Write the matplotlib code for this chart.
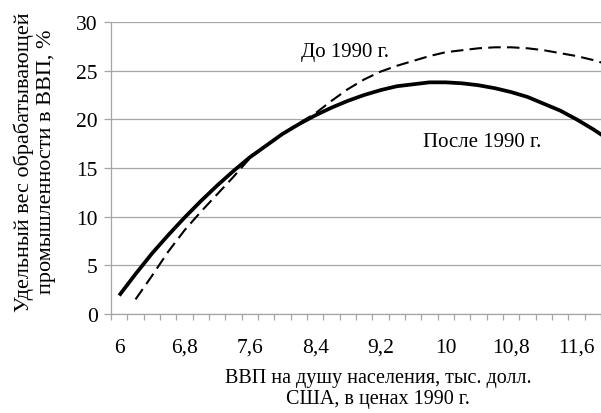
import numpy as np
import matplotlib
matplotlib.use("Agg")
import matplotlib.pyplot as plt
from matplotlib.ticker import FixedLocator

plt.rcParams['font.family'] = ['Liberation Serif', 'DejaVu Serif']

# GDP per capita categories, thousand USD (step 0.2)
gdp = [6.0, 6.2, 6.4, 6.6, 6.8, 7.0, 7.2, 7.4, 7.6, 7.8, 8.0, 8.2, 8.4, 8.6, 8.8,
       9.0, 9.2, 9.4, 9.6, 9.8, 10.0, 10.2, 10.4, 10.6, 10.8, 11.0, 11.2, 11.4,
       11.6, 11.8, 12.0]

# share of manufacturing in GDP, %
after_1990 = [1.9, 4.1, 6.2, 8.1, 9.9, 11.6, 13.2, 14.7, 16.1, 17.3, 18.5, 19.5,
              20.4, 21.2, 21.9, 22.5, 23.0, 23.4, 23.6, 23.8, 23.8, 23.7, 23.5,
              23.2, 22.8, 22.3, 21.6, 20.9, 20.0, 19.0, 17.9]

gdp_before = gdp[1:]
before_1990 = [1.5, 3.9, 6.4, 8.6, 10.5, 12.3, 14.1, 16.0, 17.3, 18.5, 19.6,
               20.6, 21.9, 23.1, 24.1, 24.9, 25.5, 26.0, 26.5, 26.9, 27.1,
               27.3, 27.4, 27.4, 27.3, 27.1, 26.8, 26.5, 26.1, 25.6]

x_labels = [6.0, 6.8, 7.6, 8.4, 9.2, 10.0, 10.8, 11.6]
y_ticks = [0, 5, 10, 15, 20, 25, 30]

fig = plt.figure(figsize=(6.01, 4.14), dpi=100)
ax = fig.add_axes([111 / 601, 99 / 414, 490 / 601, 292 / 414])

grid_col = "#a6a6a6"
ax.plot(gdp, after_1990, color="black", lw=2.7, solid_capstyle="butt", zorder=3)
ax.plot(gdp_before, before_1990, color="black", lw=1.5, dashes=(6, 3), zorder=3)

ax.set_xlim(5.9, 11.9)
ax.set_ylim(0, 30)

ax.set_yticks(y_ticks)
ax.yaxis.grid(True, color=grid_col, lw=0.9)
ax.set_axisbelow(True)

ax.xaxis.set_major_locator(FixedLocator(x_labels))
ax.set_xticklabels([f"{v:g}".replace(".", ",") for v in x_labels])
ax.xaxis.set_minor_locator(FixedLocator(np.arange(5.9, 11.95, 0.2)))
ax.tick_params(axis="x", which="major", length=0, pad=17, labelsize=15.5)
ax.tick_params(axis="x", which="minor", length=4.5, width=0.9, color=grid_col)
ax.tick_params(axis="y", length=5, width=0.9, color=grid_col, pad=4.5, labelsize=15.5)

for side in ["top", "right"]:
    ax.spines[side].set_visible(False)
for side in ["left", "bottom"]:
    ax.spines[side].set_color(grid_col)
    ax.spines[side].set_linewidth(0.9)

ax.text(8.76, 27.0, "До 1990 г.", fontsize=15, ha="center", va="center")
ax.text(10.44, 17.7, "После 1990 г.", fontsize=15, ha="center", va="center")

fig.text(378 / 601, 1 - 389 / 414,
         "ВВП на душу населения, тыс. долл.\nСША, в ценах 1990 г.",
         ha="center", va="center", fontsize=14.5, linespacing=1.2)
fig.text(35 / 601, 1 - 162 / 414,
         "Удельный вес обрабатывающей\nпромышленности в ВВП, %",
         ha="center", va="center", rotation=90, fontsize=16, linespacing=1.18)

fig.savefig("out.png", dpi=100)
